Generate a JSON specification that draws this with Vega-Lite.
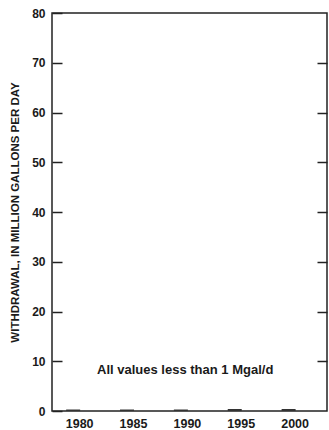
{
  "$schema": "https://vega.github.io/schema/vega-lite/v6.json",
  "width": 275,
  "height": 398,
  "autosize": {"type": "none"},
  "padding": {"left": 52, "top": 13, "right": 2, "bottom": 19},
  "config": {
    "view": {"stroke": "#222", "strokeWidth": 1.5},
    "font": "Liberation Sans",
    "axis": {"labelColor": "#1a1a1a", "titleColor": "#1a1a1a", "domain": false, "grid": false, "tickColor": "#222", "tickWidth": 1.5}
  },
  "layer": [
    {
      "data": {"values": [
        {"year": 1980, "withdrawal": 0.3},
        {"year": 1985, "withdrawal": 0.3},
        {"year": 1990, "withdrawal": 0.3},
        {"year": 1995, "withdrawal": 0.4},
        {"year": 2000, "withdrawal": 0.4}
      ]},
      "mark": {"type": "bar", "width": 14, "color": "#333"},
      "encoding": {
        "x": {"field": "year", "type": "quantitative",
          "scale": {"domain": [1978.5, 2003.1], "nice": false, "zero": false},
          "axis": {"values": [1980, 1985, 1990, 1995, 2000], "format": "d", "ticks": false, "title": null, "labelFontSize": 12.5, "labelFontWeight": "bold", "labelPadding": 6, "labelOffset": 6}},
        "y": {"field": "withdrawal", "type": "quantitative",
          "scale": {"domain": [0, 80], "nice": false},
          "axis": {"values": [0, 10, 20, 30, 40, 50, 60, 70, 80], "tickSize": -10, "labelFontSize": 12, "labelFontWeight": "bold", "labelPadding": 17,
            "title": "WITHDRAWAL, IN MILLION GALLONS PER DAY", "titleFontSize": 11.5, "titleFontWeight": "bold", "titlePadding": 11}}
      }
    },
    {
      "data": {"values": [{"x": 1990.4, "y": 8.2, "label": "All values less than 1 Mgal/d"}]},
      "mark": {"type": "text", "fontSize": 13, "fontWeight": "bold", "color": "#1a1a1a", "align": "center", "baseline": "middle"},
      "encoding": {
        "x": {"field": "x", "type": "quantitative", "axis": null},
        "y": {"field": "y", "type": "quantitative",
          "axis": {"orient": "right", "values": [10, 20, 30, 40, 50, 60, 70], "tickSize": -10, "labels": false, "title": null}},
        "text": {"field": "label"}
      }
    }
  ],
  "resolve": {"axis": {"x": "independent", "y": "independent"}}
}
